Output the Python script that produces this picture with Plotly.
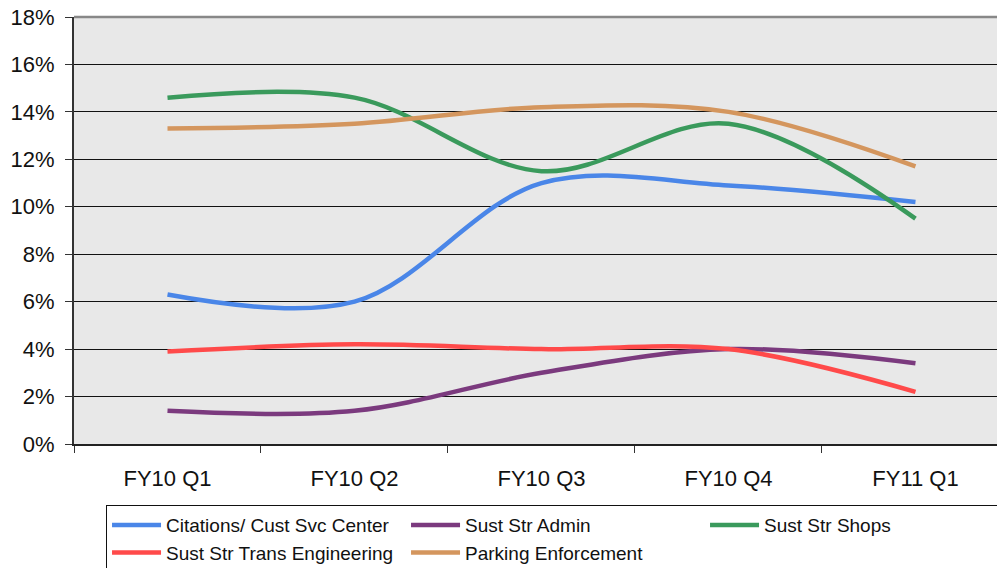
import plotly.graph_objects as go

categories = ["FY10 Q1", "FY10 Q2", "FY10 Q3", "FY10 Q4", "FY11 Q1"]
citations = [6.3, 6.0, 11.0, 10.9, 10.2]
admin = [1.4, 1.4, 3.0, 4.0, 3.4]
shops = [14.6, 14.6, 11.5, 13.5, 9.5]
trans_eng = [3.9, 4.2, 4.0, 4.0, 2.2]
parking = [13.3, 13.5, 14.2, 14.0, 11.7]

series = [
    ("Citations/ Cust Svc Center", citations, "#4A86E8"),
    ("Sust Str Admin", admin, "#7B3A7E"),
    ("Sust Str Shops", shops, "#3A9A5C"),
    ("Sust Str Trans Engineering", trans_eng, "#FF4A4A"),
    ("Parking Enforcement", parking, "#D4965E"),
]

fig = go.Figure()
for name, vals, color in series:
    fig.add_trace(go.Scatter(
        x=categories, y=[v / 100 for v in vals], name=name, mode="lines",
        line=dict(color=color, width=4.5, shape="spline", smoothing=1.0),
    ))

font = "Liberation Sans, Arial, sans-serif"
fig.update_layout(
    width=997, height=568,
    margin=dict(l=74, r=0, t=17, b=124, autoexpand=False),
    paper_bgcolor="white", plot_bgcolor="#E8E8E8",
    font=dict(family=font, color="#111111"),
    showlegend=True,
    legend=dict(
        orientation="h", x=0.0347, y=-0.143, xanchor="left", yanchor="top",
        bgcolor="white", bordercolor="#111111", borderwidth=1,
        font=dict(size=19, family=font), entrywidth=235, itemwidth=49,
        traceorder="normal",
    ),
    xaxis=dict(
        type="category", range=[-0.5, 4.436], tickson="boundaries",
        ticks="outside", ticklen=7, tickcolor="#333333", tickwidth=1,
        showline=True, linecolor="#222222", linewidth=2,
        showgrid=False, tickfont=dict(size=22), ticklabelstandoff=14,
        zeroline=False, automargin=False,
    ),
    yaxis=dict(
        range=[0, 0.18], dtick=0.02, tickformat=".0%",
        ticks="outside", ticklen=7, tickcolor="#333333",
        showline=True, linecolor="#333333", linewidth=2,
        showgrid=True, gridcolor="#111111", gridwidth=1,
        tickfont=dict(size=22), ticklabelstandoff=6, zeroline=False,
        automargin=False,
    ),
)
fig.add_shape(type="line", xref="paper", yref="paper", x0=0, x1=1, y0=1, y1=1,
              line=dict(color="#888888", width=2.5), layer="above")

fig.write_html(
    "out.html",
    config={"displayModeBar": False},
    post_script="document.body.style.margin='0';document.body.style.overflow='hidden';",
)
